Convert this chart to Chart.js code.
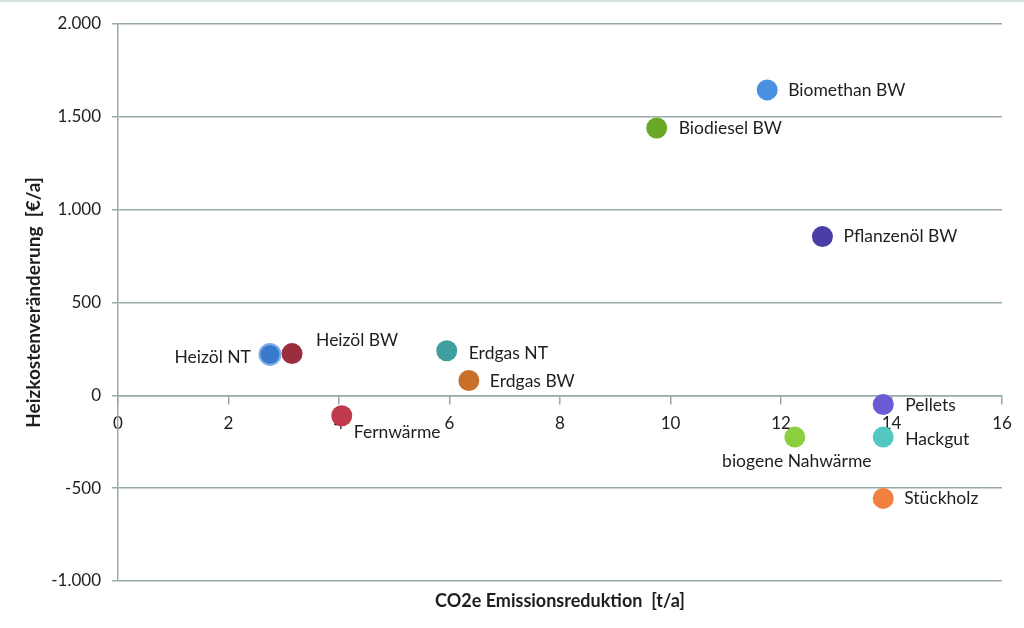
<!DOCTYPE html>
<html>
<head>
<meta charset="utf-8">
<script src="https://cdn.jsdelivr.net/npm/chart.js@4"></script>
<style>
    html, body { margin: 0; padding: 0; background: #fff; }
    body { border-top: 2px solid #d6e2e2; box-sizing: border-box; }
    #wrap { width: 1024px; height: 626px; }
</style>
</head>
<body>
<div id="wrap"><canvas id="chart" width="1024" height="626"></canvas></div>
<script>
// Heizsysteme: CO2e-Reduktion (t/a) gegen Heizkostenveränderung (€/a)
const systems = ['Heizöl NT', 'Heizöl BW', 'Erdgas NT', 'Erdgas BW', 'Fernwärme', 'Biomethan BW',
    'Biodiesel BW', 'Pflanzenöl BW', 'Pellets', 'biogene Nahwärme', 'Hackgut', 'Stückholz'];
const co2Reduction = [2.75, 3.15, 5.95, 6.35, 4.05, 11.75, 9.75, 12.75, 13.85, 12.25, 13.85, 13.85];
const costChange = [220, 225, 240, 80, -110, 1645, 1440, 855, -50, -225, -225, -555];

const xTicks = [0, 2, 4, 6, 8, 10, 12, 14, 16];
const yTicks = [-1000, -500, 0, 500, 1000, 1500, 2000];

// styling, kept apart from the values
const pointColors = ['#3b79cc', '#9a2e3c', '#3f9f9f', '#c96f2a', '#c13a4b', '#4a90e2',
    '#6aa82a', '#4a3ea6', '#6b5ad6', '#8ccf3e', '#52c8c0', '#f0803f'];
const labelPlacement = [
    [-19, 3, 'right'], [24, -13, 'left'], [22, 3, 'left'], [21, 1, 'left'],
    [12, 17, 'left'], [21, 0, 'left'], [22, 0, 'left'], [21, 0, 'left'],
    [22, 1, 'left'], [2, 24, 'center'], [22, 2, 'left'], [21, 0, 'left']
];

const gridColor = '#98aaaa';
const textColor = '#1e1e1e';

function germanNumber(v) {
    const abs = Math.abs(v);
    let s = abs >= 1000 ? Math.floor(abs / 1000) + '.' + String(abs % 1000).padStart(3, '0') : String(abs);
    return (v < 0 ? '-' : '') + s;
}

const pointLabels = {
    id: 'pointLabels',
    afterDatasetsDraw(chart) {
        const ctx = chart.ctx;
        const meta = chart.getDatasetMeta(0);
        ctx.save();
        ctx.font = '17.5px Lato';
        ctx.fillStyle = textColor;
        ctx.textBaseline = 'middle';
        meta.data.forEach((pt, i) => {
            const [dx, dy, align] = labelPlacement[i];
            ctx.textAlign = align;
            ctx.fillText(systems[i], pt.x + dx, pt.y + dy);
        });
        ctx.restore();
    }
};

new Chart(document.getElementById('chart'), {
    type: 'scatter',
    data: {
        datasets: [{
            label: 'Heizsysteme',
            data: co2Reduction.map((x, i) => ({ x: x, y: costChange[i] })),
            backgroundColor: pointColors,
            borderColor: pointColors.map((c, i) => i === 0 ? '#7fb0ee' : c),
            borderWidth: [2, 0, 0, 0, 0, 0, 0, 0, 0, 0, 0, 0],
            pointRadius: 10.5,
            pointHoverRadius: 10.5
        }]
    },
    options: {
        responsive: false,
        animation: false,
        layout: { padding: { left: 0, right: 22, top: 22, bottom: 0 } },
        plugins: {
            legend: { display: false },
            tooltip: { enabled: false }
        },
        scales: {
            x: {
                type: 'linear',
                min: 0,
                max: 16,
                position: { y: 0 },
                afterBuildTicks: scale => { scale.ticks = xTicks.map(v => ({ value: v })); },
                grid: { drawOnChartArea: false, drawTicks: true, tickLength: 8, color: gridColor, lineWidth: 1.5 },
                border: { display: true, color: gridColor, width: 1.5 },
                ticks: { color: textColor, font: { family: 'Lato', size: 17 }, padding: 10 }
            },
            x2: {
                type: 'linear',
                position: 'bottom',
                min: 0,
                max: 16,
                grid: { display: false },
                border: { display: false },
                ticks: { display: false },
                afterFit: scale => { scale.height = 47; },
                title: {
                    display: true,
                    text: 'CO2e Emissionsreduktion  [t/a]',
                    color: textColor,
                    font: { family: 'Lato', size: 18, weight: 'bold' },
                    padding: { top: 0, bottom: 16 }
                }
            },
            y: {
                type: 'linear',
                min: -1000,
                max: 2000,
                afterBuildTicks: scale => { scale.ticks = yTicks.map(v => ({ value: v })); },
                afterFit: scale => { scale.width = 118; },
                grid: { color: gridColor, lineWidth: 1.5, tickLength: 6 },
                border: { display: true, color: gridColor, width: 1.5 },
                ticks: {
                    color: textColor,
                    font: { family: 'Lato', size: 17 },
                    padding: 11,
                    callback: v => germanNumber(v)
                },
                title: {
                    display: true,
                    text: 'Heizkostenveränderung  [€/a]',
                    color: textColor,
                    font: { family: 'Lato', size: 19, weight: 'bold' },
                    padding: { top: 22, bottom: 0 }
                }
            }
        }
    },
    plugins: [pointLabels]
});
</script>
</body>
</html>
